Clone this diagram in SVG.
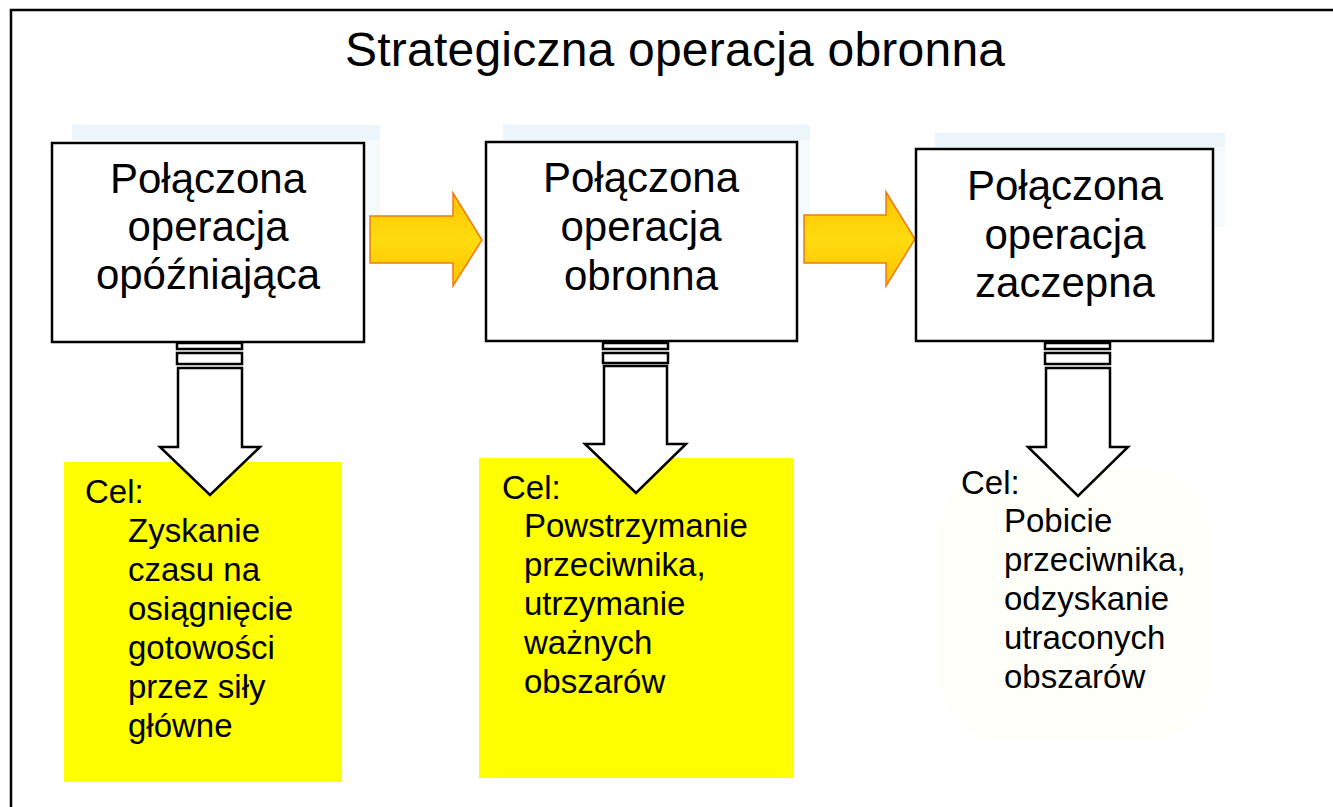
<svg xmlns="http://www.w3.org/2000/svg" width="1333" height="807" viewBox="0 0 1333 807">
<defs>
<linearGradient id="gold" x1="0" y1="0" x2="0" y2="1">
<stop offset="0" stop-color="#ffc200"/>
<stop offset="0.5" stop-color="#ffdc10"/>
<stop offset="1" stop-color="#ffc200"/>
</linearGradient>
<style>
.box{fill:#fff;stroke:#000;stroke-width:2.5}
.shadow{fill:#ebf5fa}
.goal{fill:#ffff00}
.harrow{fill:url(#gold);stroke:#f07a10;stroke-width:1.5;stroke-linejoin:miter}
.darrow{fill:#fff;stroke:#000;stroke-width:2.5;stroke-linejoin:miter}
.t{font-family:"Liberation Sans",Arial,sans-serif;fill:#000}
.title{font-size:48px;text-anchor:middle}
.bt{font-size:42px;text-anchor:middle}
.gt{font-size:33px}
</style>
</defs>
<rect width="1333" height="807" fill="#fff"/>
<path d="M11,807 V10 H1333" fill="none" stroke="#000" stroke-width="2.5"/>
<text class="t title" x="675" y="66" textLength="660">Strategiczna operacja obronna</text>

<g id="shadows">
<rect class="shadow" x="72" y="125" width="308" height="15"/>
<rect class="shadow" x="365" y="138" width="15" height="90" opacity="0.5"/>
<rect class="shadow" x="503" y="125" width="307" height="15"/>
<rect class="shadow" x="797" y="138" width="13" height="90" opacity="0.5"/>
<rect class="shadow" x="935" y="133" width="290" height="14"/>
<rect class="shadow" x="1213" y="147" width="12" height="80" opacity="0.5"/>
</g>

<g id="goal3-bg">
<rect x="940" y="470" width="270" height="270" rx="60" fill="#fffffa"/>
</g>

<g id="goal1">
<rect class="goal" x="64" y="462" width="278" height="320"/>
</g>
<g id="goal2">
<rect class="goal" x="479" y="458" width="315" height="320"/>
</g>

<g id="connectors">
<polygon class="harrow" points="370,216 453,216 453,193 482,240 453,286 453,263 370,263"/>
<polygon class="harrow" points="804,215 886,215 886,192 915,239 886,286 886,263 804,263"/>
<g id="down1">
<rect class="darrow" x="177" y="343" width="65" height="6" stroke-width="2"/>
<rect class="darrow" x="177" y="353" width="65" height="11" stroke-width="2"/>
<polygon class="darrow" points="178,368 242,368 242,447 260,447 210,495 160,447 178,447"/>
</g>
<g id="down2">
<rect class="darrow" x="603" y="343" width="65" height="6" stroke-width="2"/>
<rect class="darrow" x="603" y="353" width="65" height="10" stroke-width="2"/>
<polygon class="darrow" points="604,366 667,366 667,444 686,444 636,493 585,444 604,444"/>
</g>
<g id="down3">
<rect class="darrow" x="1045" y="343" width="65" height="6" stroke-width="2"/>
<rect class="darrow" x="1045" y="353" width="65" height="11" stroke-width="2"/>
<polygon class="darrow" points="1046,368 1110,368 1110,447 1128,447 1078,496 1028,447 1046,447"/>
</g>
</g>

<g id="node1">
<rect class="box" x="52" y="143" width="312" height="199"/>
<text class="t bt" x="208" y="193">Połączona</text>
<text class="t bt" x="208" y="241">operacja</text>
<text class="t bt" x="208" y="289">opóźniająca</text>
</g>
<g id="node2">
<rect class="box" x="486" y="142" width="311" height="199"/>
<text class="t bt" x="641" y="192">Połączona</text>
<text class="t bt" x="641" y="241">operacja</text>
<text class="t bt" x="641" y="290">obronna</text>
</g>
<g id="node3">
<rect class="box" x="916" y="149" width="297" height="192"/>
<text class="t bt" x="1065" y="200">Połączona</text>
<text class="t bt" x="1065" y="249">operacja</text>
<text class="t bt" x="1065" y="297">zaczepna</text>
</g>

<g id="goal1-text" class="t gt">
<text x="85" y="503">Cel:</text>
<text x="128" y="542">Zyskanie</text>
<text x="128" y="581">czasu na</text>
<text x="128" y="620">osiągnięcie</text>
<text x="128" y="659">gotowości</text>
<text x="128" y="698">przez siły</text>
<text x="128" y="737">główne</text>
</g>
<g id="goal2-text" class="t gt">
<text x="502" y="499">Cel:</text>
<text x="524" y="537">Powstrzymanie</text>
<text x="524" y="576">przeciwnika,</text>
<text x="524" y="615">utrzymanie</text>
<text x="524" y="654">ważnych</text>
<text x="524" y="693">obszarów</text>
</g>
<g id="goal3-text" class="t gt">
<text x="961" y="494">Cel:</text>
<text x="1004" y="532">Pobicie</text>
<text x="1004" y="571">przeciwnika,</text>
<text x="1004" y="610">odzyskanie</text>
<text x="1004" y="649">utraconych</text>
<text x="1004" y="688">obszarów</text>
</g>
</svg>
